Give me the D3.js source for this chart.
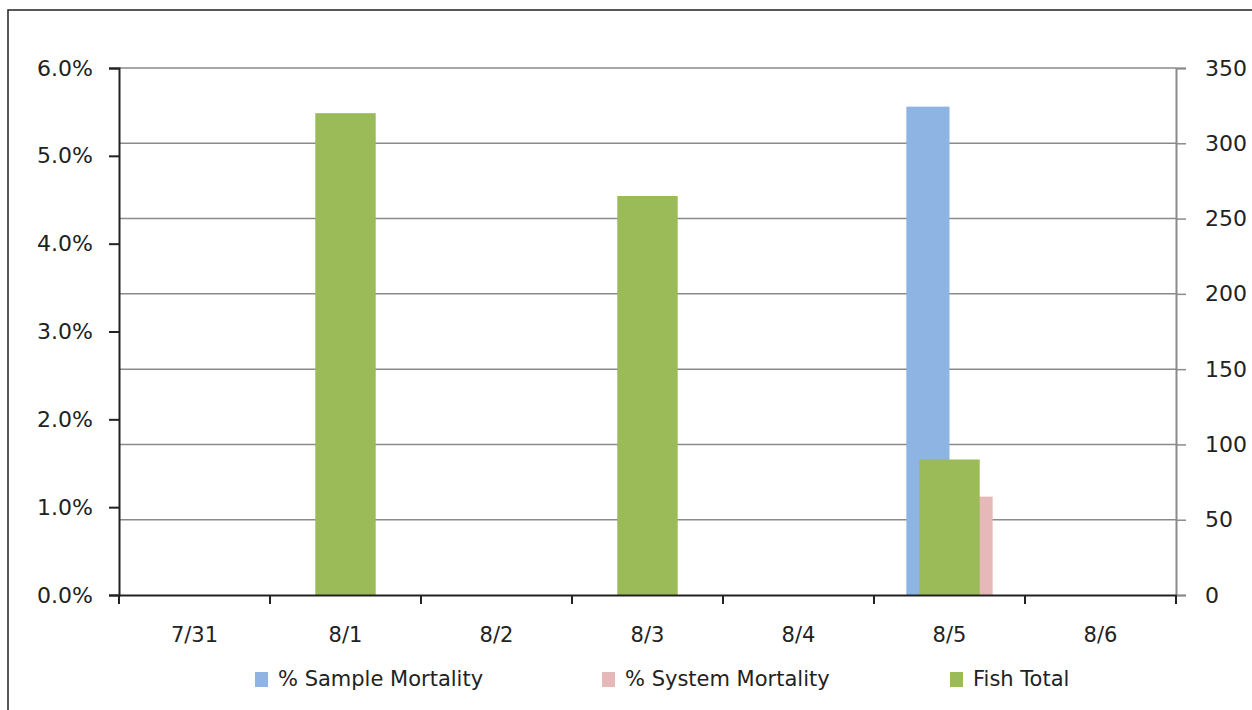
<!DOCTYPE html>
<html><head><meta charset="utf-8">
<script src="https://cdn.jsdelivr.net/npm/d3@7"></script>
<style>
html,body{margin:0;padding:0;background:#fff;}
svg{display:block;}
.tick text{font-family:"DejaVu Sans",Verdana,sans-serif;}
</style></head>
<body>
<script>
const categories = ["7/31","8/1","8/2","8/3","8/4","8/5","8/6"];
const sampleMortality = [null, null, null, null, null, 0.0556, null];
const systemMortality = [null, null, null, null, null, 0.0112, null];
const fishTotal = [null, 320, null, 265, null, 90, null];
const leftTicks = [0,0.01,0.02,0.03,0.04,0.05,0.06];
const rightTicks = [0,50,100,150,200,250,300,350];
const seriesNames = ["% Sample Mortality","% System Mortality","Fish Total"];
const colors = ["#8EB4E3","#E6B9B8","#9BBB59"];

const W=1252,H=710;
const m={l:119,r:1176,t:68,b:595};
const svg=d3.select("body").append("svg").attr("width",W).attr("height",H);

svg.append("rect").attr("x",8).attr("y",10).attr("width",1260).attr("height",720)
  .attr("fill","#fff").attr("stroke","#222").attr("stroke-width",1.5);

const x=d3.scaleBand().domain(categories).range([m.l,m.r]).padding(0);
const yL=d3.scaleLinear().domain([0,0.06]).range([m.b,m.t]);
const yR=d3.scaleLinear().domain([0,350]).range([m.b,m.t]);

// gridlines at secondary axis ticks
svg.append("g").selectAll("line").data(rightTicks.slice(1)).join("line")
  .attr("x1",m.l).attr("x2",m.r).attr("y1",d=>yR(d)).attr("y2",d=>yR(d))
  .attr("stroke","#8a8a8a").attr("stroke-width",1.5);

// primary bars (clustered, gap width 150%)
const bw=x.bandwidth();
const pW=bw/3.5;
const prim=[sampleMortality,systemMortality];
prim.forEach((arr,si)=>{
  svg.append("g").selectAll("rect").data(categories.map((c,i)=>({c,v:arr[i]})).filter(d=>d.v!=null))
    .join("rect")
    .attr("x",d=>x(d.c)+bw/2-pW+si*pW)
    .attr("width",pW)
    .attr("y",d=>yL(d.v))
    .attr("height",d=>yL(0)-yL(d.v))
    .attr("fill",colors[si]);
});
// secondary bars
const sW=bw/2.5;
svg.append("g").selectAll("rect").data(categories.map((c,i)=>({c,v:fishTotal[i]})).filter(d=>d.v!=null))
  .join("rect")
  .attr("x",d=>x(d.c)+bw/2-sW/2)
  .attr("width",sW)
  .attr("y",d=>yR(d.v))
  .attr("height",d=>yR(0)-yR(d.v))
  .attr("fill",colors[2]);

// left axis
const gL=svg.append("g").attr("transform",`translate(${m.l},0)`)
  .call(d3.axisLeft(yL).tickValues(leftTicks).tickFormat(d3.format(".1%")).tickSize(10).tickPadding(16));
gL.select(".domain").attr("stroke","#222").attr("stroke-width",2);
gL.selectAll(".tick line").attr("stroke","#222").attr("stroke-width",2);
gL.selectAll(".tick text").attr("font-size",22).attr("fill","#222");

// right axis
const gR=svg.append("g").attr("transform",`translate(${m.r},0)`)
  .call(d3.axisRight(yR).tickValues(rightTicks).tickSize(10).tickPadding(19));
gR.select(".domain").attr("stroke","#8a8a8a").attr("stroke-width",2);
gR.selectAll(".tick line").attr("stroke","#8a8a8a").attr("stroke-width",1.5);
gR.selectAll(".tick text").attr("font-size",22).attr("fill","#222");

// bottom axis
const gB=svg.append("g").attr("transform",`translate(0,${m.b})`)
  .call(d3.axisBottom(x).tickSize(0));
gB.select(".domain").attr("stroke","#222").attr("stroke-width",2);
gB.selectAll(".tick text").attr("font-size",21).attr("fill","#222")
  .attr("y",47).attr("dy",0)
  .attr("font-family","'Comic Sans MS','DejaVu Sans',sans-serif");
// category boundary ticks
svg.append("g").selectAll("line").data(categories.map(c=>x(c)).concat([m.r])).join("line")
  .attr("x1",d=>d).attr("x2",d=>d).attr("y1",m.b).attr("y2",m.b+9)
  .attr("stroke","#222").attr("stroke-width",2);

// legend
const legX=[255,602,950];
const leg=svg.append("g");
seriesNames.forEach((n,i)=>{
  leg.append("rect").attr("x",legX[i]).attr("y",672).attr("width",13).attr("height",15).attr("fill",colors[i]);
  leg.append("text").attr("x",legX[i]+23).attr("y",686).text(n)
    .attr("font-size",21).attr("fill","#222")
    .attr("font-family","'Comic Sans MS','DejaVu Sans',sans-serif");
});
</script>
</body></html>
